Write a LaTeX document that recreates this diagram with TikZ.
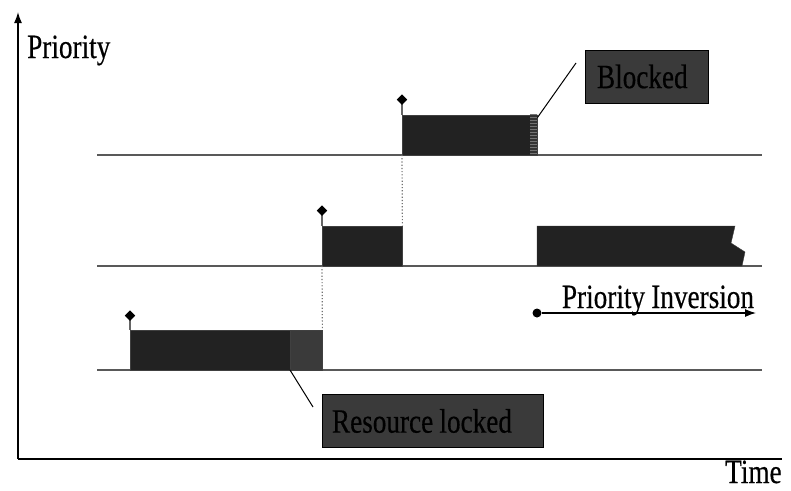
\documentclass[tikz,border=0pt]{standalone}
\usepackage{fontspec}
\setmainfont{Liberation Serif}[FakeBold=0.5]
\usetikzlibrary{arrows.meta,shapes.geometric,patterns}
\newcommand{\cond}[1]{\scalebox{0.8}[1]{\spaceskip=0.23em #1}}
\tikzset{
  txt/.style={font=\fontsize{34}{40}\selectfont, inner sep=0},
  task/.style={draw=black!75, fill=taskcol, inner sep=0, minimum height=40, anchor=south west},
  callout/.style={draw=black, line width=1, fill=calloutcol, font=\fontsize{34}{40}\selectfont, align=left, minimum height=53},
  level/.style={draw=black!65, line width=1.5},
  stem/.style={draw=black!60, line width=1.5},
  marker/.style={diamond, fill=black, inner sep=0, minimum size=11},
  handover/.style={draw=black!55, dotted, line width=1.2},
}
\begin{document}
\begin{tikzpicture}[x=1pt, y=-1pt]
\definecolor{taskcol}{HTML}{222222}
\definecolor{calloutcol}{HTML}{3A3A3A}
\useasboundingbox (0,0) rectangle (791,490);
% axes
\coordinate (origin) at (18,459);
\coordinate (ytop) at (18,12);
\coordinate (xend) at (782,459);
\draw[line width=1.5, -{Latex[length=11,width=8]}] (origin) -- (ytop);
\draw[line width=1.5] (origin) -- (xend);
\node[txt, anchor=base west] (prio) at (27,58) {\cond{Priority}};
\node[txt, anchor=base west] (time) at (725,483) {\cond{Time}};
% priority levels
\coordinate (hiL) at (97,155); \coordinate (hiR) at (762,155);
\coordinate (mdL) at (97,266); \coordinate (mdR) at (762,266);
\coordinate (loL) at (97,370); \coordinate (loR) at (762,370);
\draw[level] (hiL) -- (hiR);
\draw[level] (mdL) -- (mdR);
\draw[level] (loL) -- (loR);
% tasks
\node[task, minimum width=160] (low) at (130,370) {};
\node[task, minimum width=32, fill=calloutcol] (lock) at (290,370) {};
\node[task, minimum width=80] (mid) at (322,266) {};
\node[task, minimum width=135] (high) at (402,155) {};
\node[task, minimum width=7, draw=none, preaction={fill=black!80}, pattern=horizontal lines, pattern color=black!55] (wait) at (530,155) {};
\draw[black!75] (high.north east) -- (high.south east);
\fill[taskcol, draw=black!75] (537,226) -- (735,226) -- (731,243) -- (745,252) -- (742,266) -- (537,266) -- cycle;
% release markers
\draw[stem] (low.north west) -- ++(0,-14) node[marker] (lowrel) {};
\draw[stem] (mid.north west) -- ++(0,-15) node[marker] (midrel) {};
\draw[stem] (high.north west) -- ++(0,-15) node[marker] (highrel) {};
% hand over
\draw[handover] (mid.south west) -- (lock.north east);
\draw[handover] (high.south west) -- (mid.north east);
% callouts
\node[callout, inner xsep=12, text width=99] (blocked) at (646.5,76.5) {\cond{Blocked}};
\node[callout, inner xsep=10, text width=201] (locked) at (432.5,421) {\cond{Resource locked}};
\coordinate (blkend) at (576,63);
\coordinate (lckend) at (313,407);
\draw[line width=1] (high.north east) ++(0,3) -- (blkend);
\draw[line width=1] (lock.south west) -- (lckend);
% inversion
\node[circle, fill=black, inner sep=0, minimum size=9] (invstart) at (537,313) {};
\coordinate (invend) at (756,313);
\draw[line width=1.2, -{Latex[length=11,width=8]}] (invstart) -- (invend);
\node[txt, anchor=base] (invlbl) at (658,308) {\cond{Priority Inversion}};
\end{tikzpicture}
\end{document}
